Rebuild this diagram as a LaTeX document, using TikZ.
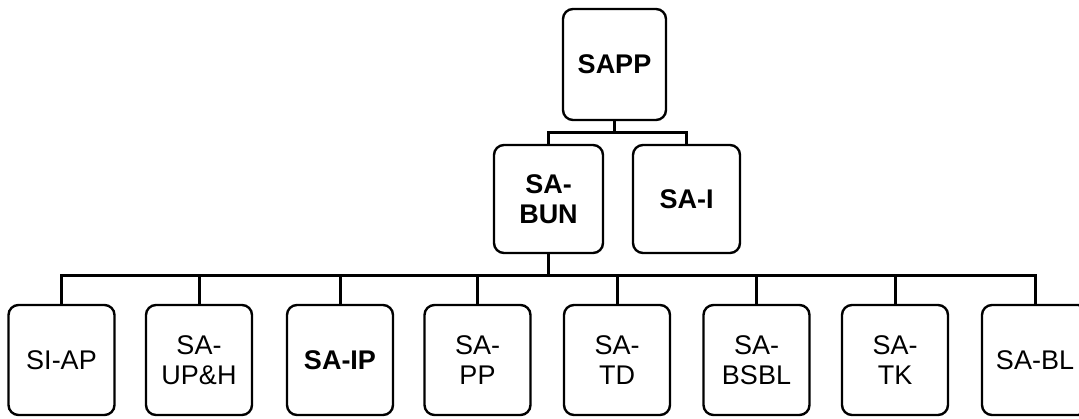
\documentclass[tikz,border=0pt]{standalone}
\usepackage{fontspec}
\setmainfont{Liberation Sans}
\begin{document}
\begin{tikzpicture}[x=1pt,y=1pt,
  box/.style={draw=black, line width=2.4pt, rounded corners=10pt, align=center,
    inner sep=0pt, minimum height=110pt, minimum width=106pt,
    font=\fontsize{27}{30}\selectfont},
  boldbox/.style={box, font=\fontsize{27}{30}\selectfont\bfseries},
  link/.style={line width=3pt}]
\useasboundingbox (0,0) rectangle (1079,418);
\node[boldbox, minimum width=103pt, minimum height=111pt] (sapp) at (614.5,353.5) {SAPP};
\node[boldbox, minimum width=109pt, minimum height=108pt] (sabun) at (548.5,219) {SA-\\BUN};
\node[boldbox, minimum width=107pt, minimum height=108pt] (sai) at (686.5,219) {SA-I};
\node[box] (siap) at (61.5,58) {SI-AP};
\node[box] (saup) at (199,58) {SA-\\UP\&H};
\node[boldbox] (saip) at (340,58) {SA-IP};
\node[box] (sapp2) at (477.5,58) {SA-\\PP};
\node[box] (satd) at (617,58) {SA-\\TD};
\node[box] (sabsbl) at (756.5,58) {SA-\\BSBL};
\node[box] (satk) at (895,58) {SA-\\TK};
\node[box] (sabl) at (1035,58) {SA-BL};
\coordinate (topbus) at (614.5,285);
\coordinate (lowbus) at (548.5,142);
\draw[link] (sapp.south) -- (topbus);
\draw[link] (topbus) -| (sabun.north);
\draw[link] (topbus) -| (sai.north);
\draw[link] (sabun.south) -- (lowbus);
\foreach \n in {siap,saup,saip,sapp2,satd,sabsbl,satk,sabl}
  \draw[link] (lowbus) -| (\n.north);
\end{tikzpicture}
\end{document}
